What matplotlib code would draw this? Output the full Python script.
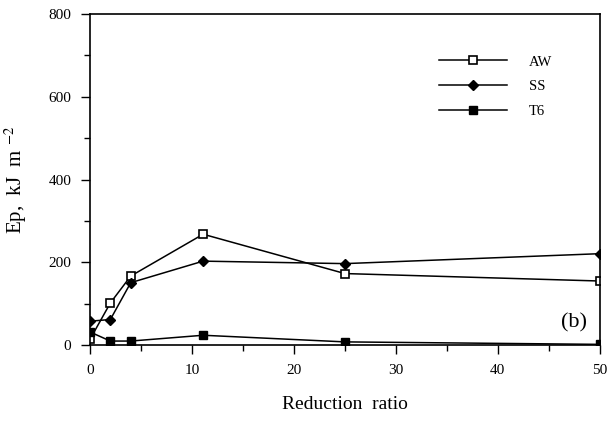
import matplotlib
matplotlib.use("Agg")
from matplotlib import pyplot as plt
from matplotlib.ticker import MultipleLocator

plt.rcParams['font.family'] = ['Liberation Serif', 'DejaVu Serif']
plt.rcParams['mathtext.fontset'] = 'stix'

# reduction ratio
x = [0, 2, 4, 11.1, 25, 50]
# Ep, kJ m^-2
aw = [14, 102, 167, 268, 173, 155]
ss = [58, 62, 151, 203, 197, 221]
t6 = [32, 10, 10, 24, 8, 2]

fig = plt.figure(figsize=(6.12, 4.22), dpi=100)
ax = fig.add_axes([0.147, 0.182, 0.833, 0.785])

ax.plot(x, aw, "-s", color="black", lw=1.1, ms=6, mfc="white", mec="black", mew=1.2, label="AW")
ax.plot(x, ss, "-D", color="black", lw=1.1, ms=5, label="SS")
ax.plot(x, t6, "-s", color="black", lw=1.1, ms=6, label="T6")

ax.set_xlim(0, 50)
ax.set_ylim(0, 800)
ax.xaxis.set_major_locator(MultipleLocator(10))
ax.xaxis.set_minor_locator(MultipleLocator(5))
ax.yaxis.set_major_locator(MultipleLocator(200))
ax.yaxis.set_minor_locator(MultipleLocator(100))
ax.tick_params(which="major", direction="out", length=6.5, width=1, labelsize=11, pad=7)
ax.tick_params(which="minor", direction="out", length=4, width=1)
for s in ax.spines.values():
    s.set_linewidth(1.2)

ax.set_xlabel("Reduction  ratio", fontsize=14, labelpad=14)
ax.set_ylabel("Ep,  kJ  m $^{-2}$", fontsize=15, labelpad=14)

ax.text(47.5, 55, "(b)", fontsize=16, ha="center", va="center")

ax.legend(loc="upper left", bbox_to_anchor=(0.684, 0.875), frameon=False,
          fontsize=10.5, handlelength=4.7, handletextpad=1.5, labelspacing=0.8,
          borderpad=0, borderaxespad=0)

fig.savefig("out.png", dpi=100)
